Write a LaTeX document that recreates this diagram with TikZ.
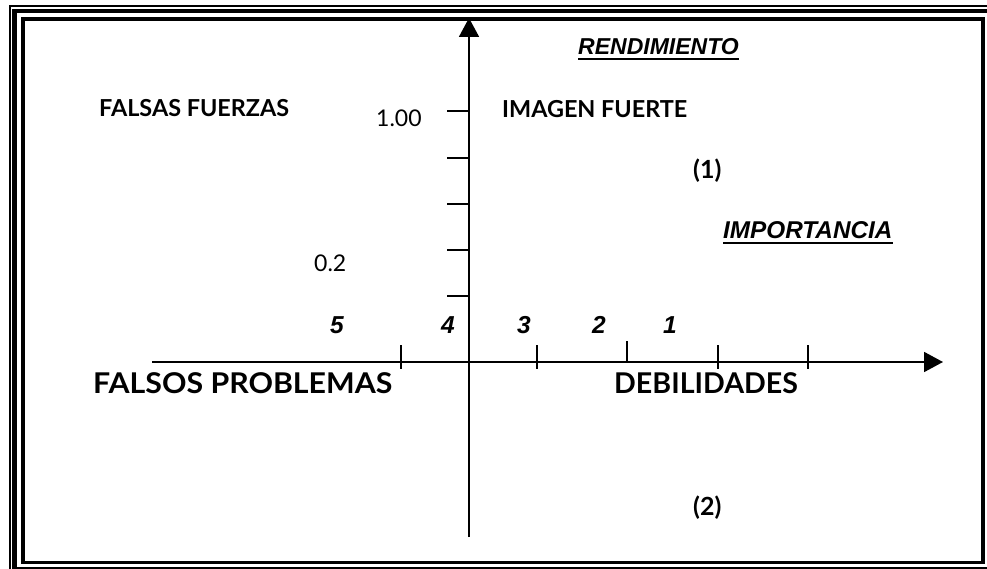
\documentclass[tikz,border=0pt]{standalone}
\usepackage{fontspec}
\usepackage{graphicx}
\setmainfont{Lato}
\newfontfamily\arialf{Liberation Sans}
\usetikzlibrary{arrows.meta}
\tikzset{
  frame/.style={draw=black},
  axis/.style={line width=1.8pt, -{Triangle[length=19pt,width=20pt]}},
  tick/.style={line width=1.8pt},
  uline/.style={line width=2pt},
  lbl/.style={inner sep=0pt, anchor=base west, font=\fontsize{23.4}{25}\selectfont\bfseries},
  parlbl/.style={inner sep=0pt, anchor=base west, font=\fontsize{25}{27}\selectfont\bfseries},
  biglbl/.style={inner sep=0pt, anchor=base west, font=\fontsize{28.6}{30}\selectfont\bfseries},
  numlbl/.style={inner sep=0pt, anchor=base west, font=\fontsize{23}{25}\selectfont},
  itlbl/.style={inner sep=0pt, anchor=base west, font=\arialf\fontsize{23}{25}\selectfont\bfseries\itshape},
  diglbl/.style={inner sep=0pt, anchor=base, font=\arialf\fontsize{24.5}{26}\selectfont\bfseries\itshape},
}
\begin{document}
\begin{tikzpicture}[x=1pt,y=-1pt]
\useasboundingbox (0,0) rectangle (987,569);
\clip (0,0) rectangle (987,569);
% triple frame
\draw[frame, line width=2pt] (10,6) rectangle (998,580);
\draw[frame, line width=4.5pt] (14.5,11) rectangle (992,569);
\draw[frame, line width=3.5pt] (23,19) rectangle (983,562.5);
% axes
\coordinate (vbot) at (469,537);
\coordinate (vtop) at (469,18);
\coordinate (hl) at (152,362);
\coordinate (hr) at (943,362);
\draw[axis] (vbot) -- (vtop);
\draw[axis] (hl) -- (hr);
% vertical ticks
\foreach \yy in {111,158,204,250,296} \draw[tick] (447,\yy) -- (469,\yy);
% horizontal ticks
\foreach \xx in {401,537,718,808} \draw[tick] (\xx,345) -- (\xx,369);
\draw[tick] (627,341) -- (627,362);
% labels
\node[itlbl] (rend) at (578,55) {RENDIMIENTO};
\draw[uline] ([yshift=-4pt]rend.base west) -- ([yshift=-4pt]rend.base east);
\node[lbl] (ff) at (99,117) {FALSAS FUERZAS};
\node[numlbl] (one) at (376,127) {1.00};
\node[lbl] (imf) at (502,118) {IMAGEN FUERTE};
\node[parlbl] (q1) at (693,179) {(1)};
\node[itlbl, font=\arialf\fontsize{24.3}{26}\selectfont\bfseries\itshape] (imp) at (723,239) {IMPORTANCIA};
\draw[uline] ([yshift=-4pt]imp.base west) -- ([yshift=-4pt]imp.base east);
\node[numlbl] (pt2) at (314,271) {0.2};
\node[diglbl] (d5) at (337,333) {5};
\node[diglbl] (d4) at (448,333) {4};
\node[diglbl] (d3) at (524,333) {3};
\node[diglbl] (d2) at (599,333) {2};
\node[diglbl] (d1) at (670,333) {1};
\node[biglbl] (fp) at (93,393) {\scalebox{1.06}[1]{FALSOS PROBLEMAS}};
\node[biglbl] (deb) at (614,393) {DEBILIDADES};
\node[parlbl] (q2) at (693,515) {(2)};
\end{tikzpicture}
\end{document}
